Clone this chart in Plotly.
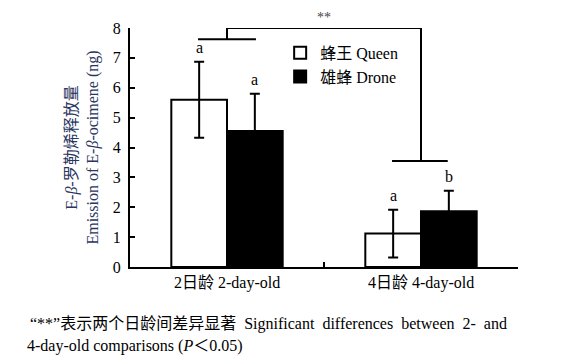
import plotly.graph_objects as go

categories = ["2日龄 2-day-old", "4日龄 4-day-old"]
series_names = ["蜂王 Queen", "雄蜂 Drone"]
queen_mean = [5.6, 1.12]
queen_err = [1.27, 0.80]
drone_mean = [4.55, 1.87]
drone_err = [1.25, 0.68]
queen_letters = ["a", "a"]
drone_letters = ["a", "b"]
bracket_top = 8.0
bracket_left_drop = 7.62
bracket_right_drop = 3.55
sig_label = "**"

FONT = "Liberation Serif, Noto Sans CJK SC, serif"
FS = 16
bargap = 0.426
half = (1 - bargap) / 2  # width of one bar in category units
NB = "\u00a0"

x_idx = list(range(len(categories)))

fig = go.Figure()
fig.add_trace(go.Bar(
    x=x_idx, y=queen_mean, name=series_names[0],
    marker=dict(color="white", line=dict(color="black", width=2)),
    error_y=dict(type="data", array=queen_err, color="black", thickness=2, width=5),
))
fig.add_trace(go.Bar(
    x=x_idx, y=drone_mean, name=series_names[1],
    marker=dict(color="black", line=dict(color="black", width=2)),
    error_y=dict(type="data", array=drone_err, color="black", thickness=2, width=5),
))

# significance letters
for i in x_idx:
    fig.add_annotation(x=i - half / 2, y=queen_mean[i] + queen_err[i], text=queen_letters[i],
                       showarrow=False, yanchor="bottom", yshift=4,
                       font=dict(family=FONT, size=FS, color="black"))
    fig.add_annotation(x=i + half / 2, y=drone_mean[i] + drone_err[i], text=drone_letters[i],
                       showarrow=False, yanchor="bottom", yshift=4,
                       font=dict(family=FONT, size=FS, color="black"))

# category labels
for i, c in enumerate(categories):
    fig.add_annotation(x=i, y=0, yref="y", text=c, showarrow=False, yanchor="top", yshift=-5,
                       font=dict(family=FONT, size=FS, color="black"))

# bracket
lw = dict(color="black", width=2)
fig.add_shape(type="line", x0=0, x1=1, y0=bracket_top, y1=bracket_top, line=lw)
fig.add_shape(type="line", x0=0, x1=0, y0=bracket_left_drop, y1=bracket_top, line=lw)
fig.add_shape(type="line", x0=1, x1=1, y0=bracket_right_drop, y1=bracket_top, line=lw)
fig.add_shape(type="line", x0=-half * 0.52, x1=half * 0.52, y0=bracket_left_drop, y1=bracket_left_drop, line=lw)
fig.add_shape(type="line", x0=1 - half * 0.52, x1=1 + half * 0.48, y0=bracket_right_drop, y1=bracket_right_drop, line=lw)
fig.add_annotation(x=0.5, y=bracket_top, text=sig_label, showarrow=False, yanchor="bottom", yshift=1,
                   font=dict(family=FONT, size=14, color="#444"))

# caption
cap1 = ("“**”表示两个日龄间差异显著" + NB * 2 + "Significant" + NB * 2 + "differences" + NB * 2
        + "between" + NB * 2 + "2-" + NB * 2 + "and")
fig.add_annotation(xref="paper", yref="paper", x=-0.263, y=-0.24, xanchor="left", yanchor="middle",
                   text=cap1, showarrow=False, font=dict(family=FONT, size=FS, color="black"))
fig.add_annotation(xref="paper", yref="paper", x=-0.27, y=-0.33, xanchor="left", yanchor="middle",
                   text="4-day-old comparisons (<i>P</i>＜0.05)",
                   showarrow=False, font=dict(family=FONT, size=FS, color="black"))

fig.update_layout(
    width=560, height=349,
    margin=dict(l=122, r=50, t=17, b=90),
    paper_bgcolor="white", plot_bgcolor="white",
    barmode="group", bargap=bargap, bargroupgap=0,
    font=dict(family=FONT, size=FS, color="black"),
    showlegend=True,
    legend=dict(x=0.387, y=0.967, xanchor="left", yanchor="top", bgcolor="rgba(0,0,0,0)",
                font=dict(family=FONT, size=FS, color="black"), itemwidth=30, tracegroupgap=0),
    xaxis=dict(range=[-0.5, 1.5], showline=True, linecolor="black", linewidth=2,
               tickvals=[0.5, 1.5], ticktext=["", ""], ticks="inside", ticklen=5,
               tickwidth=2, tickcolor="black", showgrid=False, zeroline=False),
    yaxis=dict(range=[0, 8], showline=True, linecolor="black", linewidth=2,
               tickvals=list(range(0, 9)), ticks="inside", ticklen=5, tickwidth=2,
               tickcolor="black", showgrid=False, zeroline=False, ticklabelstandoff=4,
               tickfont=dict(family=FONT, size=FS, color="black"),
               title=dict(text="E-<i>β</i>-罗勒烯释放量<br>Emission of E-<i>β</i>-ocimene (ng)",
                          font=dict(family=FONT, size=FS, color="#2a3560"), standoff=10)),
)

fig.write_html("out.html")
